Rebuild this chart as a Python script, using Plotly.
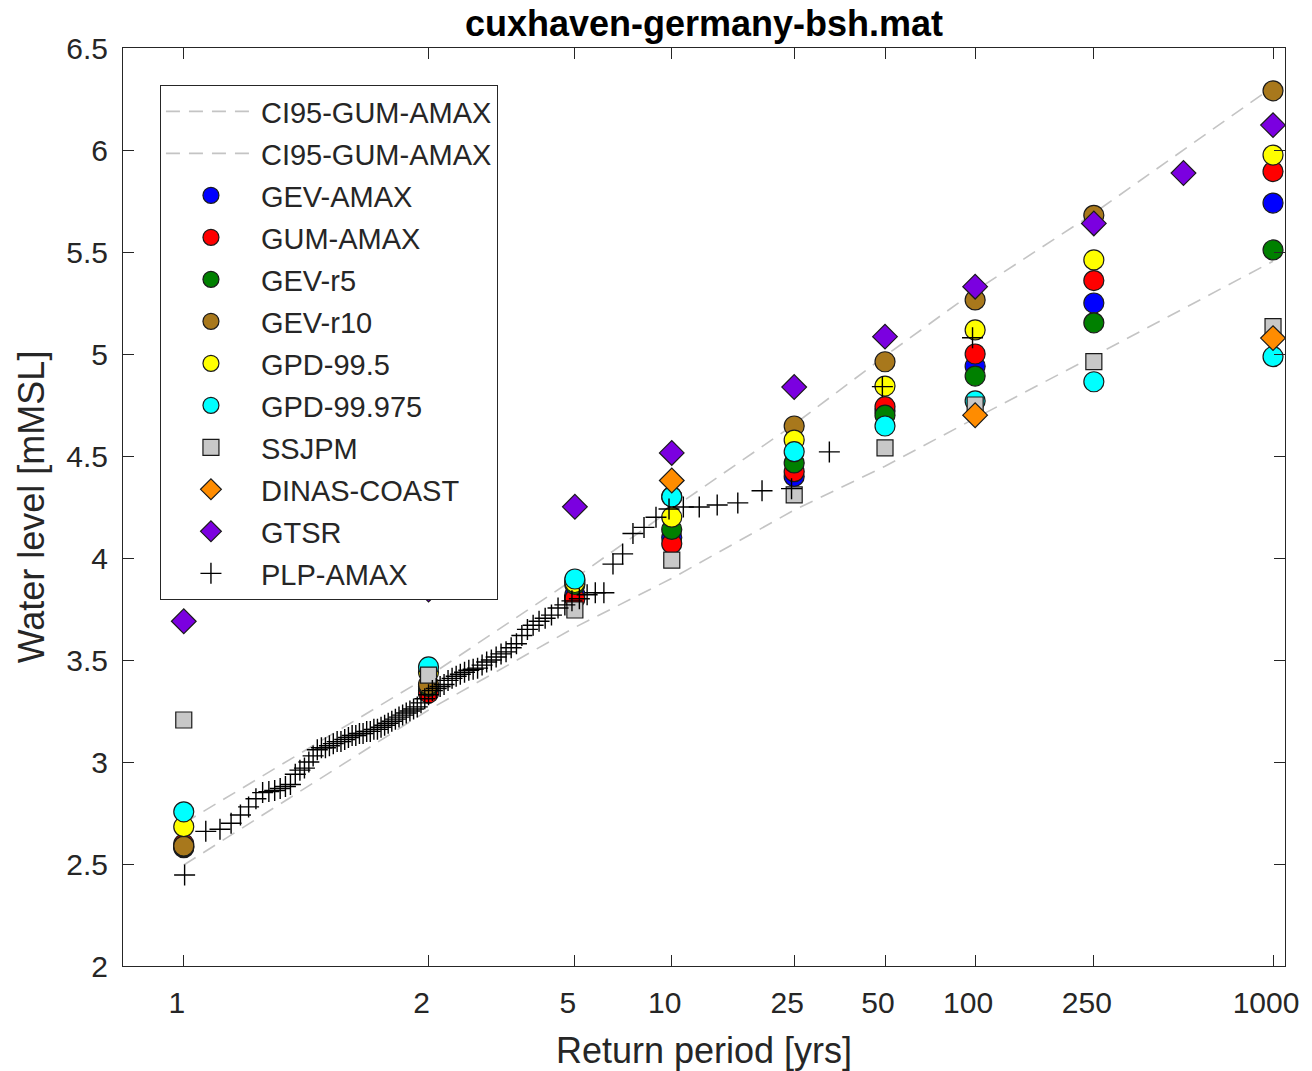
import numpy as np
import plotly.graph_objects as go

# ---------------- data ----------------
TITLE = "cuxhaven-germany-bsh.mat"
RP = [1.01, 2, 5, 10, 25, 50, 100, 250, 1000]          # return periods [yrs]
TICK_RP = [1.01, 2, 5, 10, 25, 50, 100, 250, 1000]
TICK_TEXT = ["1", "2", "5", "10", "25", "50", "100", "250", "1000"]

CI_UPPER = [2.70, 3.42, 3.90, 4.24, 4.655, 4.99, 5.31, 5.69, 6.31]
CI_LOWER = [2.495, 3.255, 3.66, 3.90, 4.235, 4.45, 4.685, 4.99, 5.455]

GEV_AMAX = [2.58, 3.35, 3.82, 4.10, 4.40, 4.72, 4.94, 5.25, 5.74]
GUM_AMAX = [2.598, 3.338, 3.80, 4.07, 4.423, 4.742, 5.00, 5.36, 5.894]
GEV_R5 = [2.585, 3.37, 3.87, 4.14, 4.466, 4.70, 4.892, 5.153, 5.51]
GEV_R10 = [2.588, 3.38, 3.89, 4.30, 4.647, 4.962, 5.265, 5.68, 6.29]
GPD_995 = [2.683, 3.44, 3.88, 4.20, 4.578, 4.843, 5.118, 5.461, 5.975]
GPD_99975 = [2.756, 3.466, 3.897, 4.30, 4.521, 4.647, 4.77, 4.864, 4.987]
SSJPM = [3.206, 3.426, 3.745, 3.99, 4.309, 4.54, 4.75, 4.963, 5.134]

DINAS_RP = [10, 100, 1000]
DINAS = [4.38, 4.70, 5.078]

GTSR_RP = [1.01, 2, 5, 10, 25, 50, 100, 250, 500, 1000]
GTSR = [3.69, 3.845, 4.251, 4.515, 4.838, 5.085, 5.33, 5.64, 5.887, 6.122]

# annual maxima, sorted from largest (rank 1) to smallest
PLP_AMAX = [
    5.08, 4.84, 4.52, 4.34, 4.33, 4.27, 4.26, 4.25, 4.25, 4.24,
    4.20, 4.15, 4.12, 4.02, 3.97, 3.83, 3.83, 3.82, 3.80, 3.79,
    3.77, 3.755, 3.72, 3.705, 3.69, 3.67, 3.65, 3.62, 3.58, 3.56,
    3.54, 3.53, 3.515, 3.50, 3.49, 3.475, 3.46, 3.455, 3.45, 3.44,
    3.43, 3.42, 3.41, 3.40, 3.38, 3.37, 3.36, 3.35, 3.33, 3.31,
    3.29, 3.27, 3.26, 3.25, 3.24, 3.23, 3.22, 3.21, 3.20, 3.19,
    3.18, 3.17, 3.16, 3.16, 3.15, 3.15, 3.14, 3.14, 3.13, 3.13,
    3.12, 3.11, 3.10, 3.10, 3.09, 3.08, 3.07, 3.07, 3.06, 3.03,
    3.00, 2.97, 2.96, 2.94, 2.89, 2.88, 2.87, 2.86, 2.855, 2.85,
    2.82, 2.78, 2.74, 2.70, 2.67, 2.66, 2.446,
]


def gumbel(T):
    """Gumbel reduced variate used as the x-scale of the return period axis."""
    T = np.asarray(T, dtype=float)
    return -np.log(-np.log(1.0 - 1.0 / T))


# Weibull plotting positions for the annual maxima
n = len(PLP_AMAX)
PLP_RP = (n + 1) / np.arange(1, n + 1)

# ---------------- figure ----------------
FONT = "Liberation Sans, Arial, Helvetica, sans-serif"
AX = "#262626"

fig = go.Figure()

ci_style = dict(color="#c4c4c4", width=1.6, dash="14px,9px")
fig.add_trace(go.Scatter(x=gumbel(RP), y=CI_UPPER, mode="lines", line=ci_style,
                         name="CI95-GUM-AMAX", legendgroup="g00"))
fig.add_trace(go.Scatter(x=gumbel(RP), y=CI_LOWER, mode="lines", line=ci_style,
                         name="CI95-GUM-AMAX", legendgroup="g01"))

series = [
    ("GEV-AMAX", RP, GEV_AMAX, "circle", "#0000ff", 20),
    ("GUM-AMAX", RP, GUM_AMAX, "circle", "#ff0000", 20),
    ("GEV-r5", RP, GEV_R5, "circle", "#008000", 20),
    ("GEV-r10", RP, GEV_R10, "circle", "#a8781c", 20),
    ("GPD-99.5", RP, GPD_995, "circle", "#ffff00", 20),
    ("GPD-99.975", RP, GPD_99975, "circle", "#00ffff", 20),
    ("SSJPM", RP, SSJPM, "square", "#c8c8c8", 16),
    ("DINAS-COAST", DINAS_RP, DINAS, "diamond", "#ff8c00", 19),
    ("GTSR", GTSR_RP, GTSR, "diamond", "#7b00e0", 19),
]
for i, (name, rp, vals, sym, col, size) in enumerate(series):
    fig.add_trace(go.Scatter(
        x=gumbel(rp), y=vals, mode="markers", name=name, legendgroup=f"g{i+2:02d}",
        marker=dict(symbol=sym, color=col, size=size,
                    line=dict(color="#1a1a1a", width=1.2)),
    ))

fig.add_trace(go.Scatter(
    x=gumbel(PLP_RP), y=PLP_AMAX, mode="markers", name="PLP-AMAX", legendgroup="g11",
    marker=dict(symbol="cross-thin", size=15, color="black",
                line=dict(color="black", width=1.4)),
))

axis_common = dict(
    showline=True, linecolor=AX, linewidth=1, mirror="ticks",
    ticks="inside", ticklen=11, tickwidth=1, tickcolor=AX,
    showgrid=False, zeroline=False, automargin=False,
    tickfont=dict(family=FONT, size=30, color=AX),
)

fig.update_layout(
    width=1312, height=1071,
    margin=dict(l=123, r=27, t=48, b=105, autoexpand=False),
    paper_bgcolor="white", plot_bgcolor="white",
    font=dict(family=FONT, color=AX),
    title=dict(text="<b>" + TITLE + "</b>", x=0.5, xref="paper",
               y=1 - 23 / 1071, yref="container", yanchor="middle",
               font=dict(family=FONT, size=36, color="black")),
    xaxis=dict(range=[-2, 7], tickmode="array", tickvals=gumbel(TICK_RP),
               ticktext=TICK_TEXT, ticklabelshift=-7, ticklabelstandoff=10,
               title=dict(text="Return period [yrs]",
                          font=dict(family=FONT, size=36, color=AX), standoff=19),
               **axis_common),
    yaxis=dict(range=[2, 6.5], tickmode="array",
               tickvals=[2, 2.5, 3, 3.5, 4, 4.5, 5, 5.5, 6, 6.5],
               ticktext=["2", "2.5", "3", "3.5", "4", "4.5", "5", "5.5", "6", "6.5"],
               ticklabelstandoff=8,
               title=dict(text="Water level [mMSL]",
                          font=dict(family=FONT, size=36, color=AX), standoff=10),
               **axis_common),
    legend=dict(x=0.0318, y=0.9597, xanchor="left", yanchor="top",
                bgcolor="white", bordercolor=AX, borderwidth=1,
                font=dict(family=FONT, size=29, color=AX),
                itemwidth=90, tracegroupgap=1.3, traceorder="grouped"),
    showlegend=True,
)

fig.write_html("out.html", config={"displayModeBar": False},
               post_script="document.body.style.margin='0';document.body.style.overflow='hidden';")
